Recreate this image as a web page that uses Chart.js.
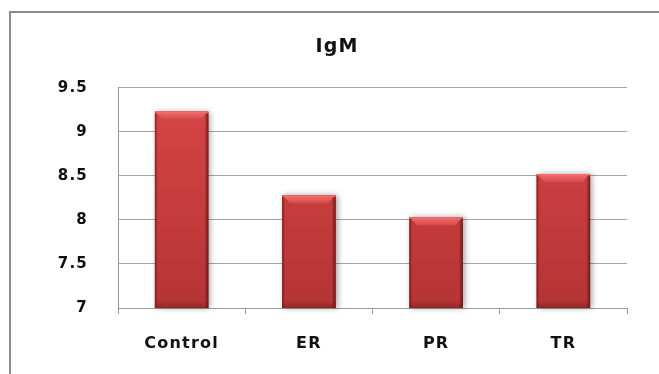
<!DOCTYPE html>
<html>
<head>
<meta charset="utf-8">
<script src="https://cdn.jsdelivr.net/npm/chart.js@4.4.1/dist/chart.umd.min.js"></script>
<style>
  html, body { margin: 0; padding: 0; background: #fff; overflow: hidden; }
  #wrap { position: relative; width: 659px; height: 374px; }
  #frame {
    position: absolute; left: 9px; top: 11px; width: 700px; height: 400px;
    border: 2px solid #8c8c8c; box-sizing: border-box;
  }
  canvas { position: absolute; left: 0; top: 0; }
</style>
</head>
<body>
<div id="wrap">
  <div id="frame"></div>
  <canvas id="chart" width="659" height="374"></canvas>
</div>
<script>
// IgM levels per group
const categories = ['Control', 'ER', 'PR', 'TR'];
const igmValues = [9.23, 8.28, 8.03, 8.52];
const yTicks = [7, 7.5, 8, 8.5, 9, 9.5];

const FONT = "'DejaVu Sans', Verdana, sans-serif";

// wide, bold lettering
const spacingPlugin = {
  id: 'spacing',
  beforeUpdate(chart) { chart.ctx.letterSpacing = '1.2px'; },
  beforeDraw(chart) { chart.ctx.letterSpacing = '1.2px'; }
};

// bar geometry from the element, with the base held at the bottom of the plot
function barBox(chart, bar) {
  const { x, y, width } = bar.getProps(['x', 'y', 'width'], true);
  const base = chart.chartArea.bottom;
  return { l: x - width / 2, r: x + width / 2, y, base, width };
}

// shadow and bevel on each bar
const bevelPlugin = {
  id: 'bevel',
  beforeDatasetsDraw(chart) {
    const ctx = chart.ctx;
    chart.getDatasetMeta(0).data.forEach(bar => {
      const { l, y, base, width } = barBox(chart, bar);
      ctx.save();
      ctx.shadowColor = 'rgba(0,0,0,0.35)';
      ctx.shadowBlur = 6;
      ctx.shadowOffsetX = 2;
      ctx.fillStyle = '#b03030';
      ctx.fillRect(l, y, width, base - y);
      ctx.restore();
    });
  },
  afterDatasetsDraw(chart) {
    const ctx = chart.ctx;
    chart.getDatasetMeta(0).data.forEach(bar => {
      const { l, r, y, base, width } = barBox(chart, bar);
      const b = 8;
      ctx.save();
      // top bevel
      const gt = ctx.createLinearGradient(0, y, 0, y + b);
      gt.addColorStop(0, '#f07070');
      gt.addColorStop(1, '#d84848');
      ctx.fillStyle = gt;
      ctx.beginPath();
      ctx.moveTo(l, y); ctx.lineTo(r, y); ctx.lineTo(r - b, y + b); ctx.lineTo(l + b, y + b); ctx.closePath();
      ctx.fill();
      // left bevel
      const gl = ctx.createLinearGradient(l, 0, l + 3, 0);
      gl.addColorStop(0, 'rgba(110,20,20,0.7)');
      gl.addColorStop(1, 'rgba(110,20,20,0)');
      ctx.fillStyle = gl;
      ctx.fillRect(l, y + 2, 3, base - y - 2);
      // right bevel
      const gr = ctx.createLinearGradient(r - 4, 0, r, 0);
      gr.addColorStop(0, 'rgba(90,15,15,0)');
      gr.addColorStop(1, 'rgba(90,15,15,0.8)');
      ctx.fillStyle = gr;
      ctx.fillRect(r - 4, y + 2, 4, base - y - 2);
      // bottom bevel
      const gb = ctx.createLinearGradient(0, base - 7, 0, base);
      gb.addColorStop(0, 'rgba(100,20,20,0)');
      gb.addColorStop(1, 'rgba(100,20,20,0.45)');
      ctx.fillStyle = gb;
      ctx.fillRect(l, base - 7, width, 7);
      ctx.restore();
    });
  }
};

new Chart(document.getElementById('chart'), {
  type: 'bar',
  data: {
    labels: categories,
    datasets: [{
      label: 'IgM',
      data: igmValues,
      backgroundColor(c) {
        const area = c.chart.chartArea;
        if (!area) return '#c83c3c';
        const g = c.chart.ctx.createLinearGradient(0, area.top, 0, area.bottom);
        g.addColorStop(0, '#da4646');
        g.addColorStop(1, '#b43434');
        return g;
      },
      borderWidth: 0,
      categoryPercentage: 1,
      barPercentage: 0.42
    }]
  },
  options: {
    responsive: false,
    animation: false,
    events: [],
    layout: { padding: { left: 47, right: 32, top: 26, bottom: 0 } },
    plugins: {
      legend: { display: false },
      tooltip: { enabled: false },
      title: {
        display: true,
        text: 'IgM',
        color: '#111',
        font: { family: FONT, size: 19, weight: 'bold', lineHeight: 1.2 },
        padding: { top: 10, bottom: 29 }
      }
    },
    scales: {
      x: {
        grid: {
          display: true, offset: true, drawOnChartArea: false,
          color: '#9a9a9a', tickLength: 6, tickColor: '#9a9a9a'
        },
        border: { display: true, color: '#9a9a9a' },
        ticks: {
          color: '#111', padding: 20,
          font: { family: FONT, size: 16, weight: 'bold' }
        },
        afterFit(s) { s.height = 66; }
      },
      y: {
        min: 7, max: 9.5,
        afterBuildTicks(s) { s.ticks = yTicks.map(v => ({ value: v })); },
        grid: { color: '#a6a6a6', drawTicks: false },
        border: { display: true, color: '#9a9a9a' },
        ticks: {
          color: '#111', padding: 30,
          font: { family: FONT, size: 15, weight: 'bold' },
          callback: v => String(v)
        },
        afterFit(s) { s.width = 71; }
      }
    }
  },
  plugins: [spacingPlugin, bevelPlugin]
});
</script>
</body>
</html>
